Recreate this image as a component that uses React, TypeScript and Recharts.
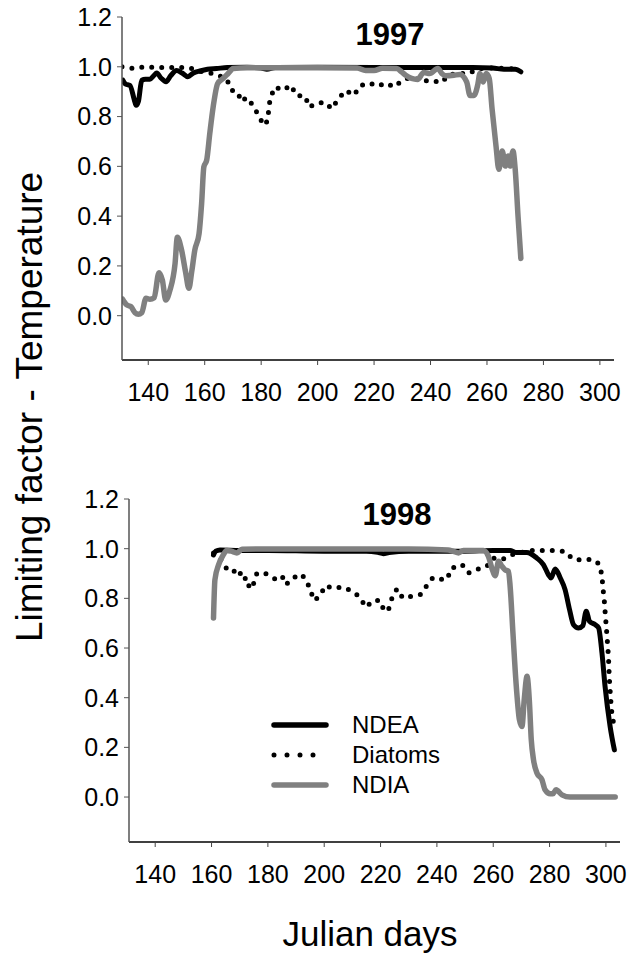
import React from "react";
import { LineChart, Line, XAxis, YAxis } from "recharts";

const FONT = "'Liberation Sans', Arial, sans-serif";

// ---------- 1997 ----------
const ndea97Days = [131, 132, 133.5, 135, 135.7, 136.5, 137.7, 139, 140.6, 142, 143, 144.5, 146.3, 148, 150, 152, 154, 156, 158.3, 161, 164.2, 168, 175, 180, 182, 185, 200, 220, 240, 255, 262, 266, 270, 272];
const ndea97Vals = [0.946, 0.93, 0.925, 0.87, 0.845, 0.86, 0.946, 0.95, 0.95, 0.965, 0.975, 0.955, 0.94, 0.965, 0.985, 0.975, 0.96, 0.975, 0.983, 0.99, 0.993, 0.997, 0.998, 0.995, 0.99, 0.997, 0.998, 0.997, 0.997, 0.997, 0.995, 0.99, 0.99, 0.98];

const diat97Days = [130.7, 135, 139, 142.8, 146.4, 150.4, 154, 159.2, 164.2, 167.8, 169.6, 171.6, 173, 174.8, 177.3, 179.2, 181, 182.3, 182.7, 183.2, 184.9, 187.7, 190.6, 192.4, 195.6, 197, 199.8, 202.7, 205, 207.4, 210, 212.9, 215, 218.3, 221.5, 224, 227.2, 230, 233.3, 236.9, 240.4, 243.7, 246.8, 249.7, 253.7, 256.8, 262, 267, 272];
const diat97Vals = [1.0, 0.993, 1.0, 0.997, 0.997, 0.997, 0.997, 0.98, 0.97, 0.95, 0.905, 0.9, 0.86, 0.877, 0.842, 0.8, 0.764, 0.784, 0.83, 0.874, 0.919, 0.905, 0.926, 0.885, 0.882, 0.838, 0.854, 0.857, 0.831, 0.872, 0.905, 0.885, 0.923, 0.935, 0.922, 0.935, 0.919, 0.946, 0.959, 0.943, 0.946, 0.936, 0.969, 0.973, 0.973, 0.993, 0.995, 0.993, 0.99];

const ndia97Days = [130.9, 132.4, 133.9, 135.3, 136.5, 137.7, 139.2, 140.6, 142.1, 143.8, 145, 146.2, 147.7, 149.5, 150.3, 151.8, 153.2, 154.4, 155.4, 156.5, 158, 158.9, 159.7, 160.7, 161.8, 163, 164.6, 166.5, 168.3, 170.1, 175, 200, 214, 217, 220, 223, 228, 229.7, 231.2, 233.3, 235.4, 237.6, 239.7, 242.6, 244, 245.4, 248.3, 250.4, 252.8, 254, 255.4, 256.8, 257.5, 258.7, 259.7, 260.8, 261.8, 263.2, 264.2, 265.4, 266.5, 267.5, 268.2, 269.2, 270, 271, 272];
const ndia97Vals = [0.066, 0.043, 0.036, 0.012, 0.006, 0.012, 0.07, 0.066, 0.072, 0.173, 0.143, 0.063, 0.103, 0.21, 0.315, 0.264, 0.177, 0.11, 0.177, 0.264, 0.33, 0.45, 0.598, 0.625, 0.732, 0.839, 0.933, 0.953, 0.973, 0.993, 0.996, 0.996, 0.995, 0.985, 0.985, 0.994, 0.993, 0.98, 0.966, 0.953, 0.949, 0.977, 0.973, 0.993, 0.973, 0.964, 0.966, 0.969, 0.939, 0.885, 0.885, 0.932, 0.973, 0.939, 0.973, 0.953, 0.831, 0.682, 0.588, 0.662, 0.601, 0.642, 0.601, 0.662, 0.588, 0.4, 0.23];

// ---------- 1998 ----------
const ndea98Days = [160.7, 161.5, 163, 170, 180, 200, 215, 219, 221, 223, 230, 250, 260, 266, 268, 271.9, 275.5, 277.8, 279.6, 280.5, 282, 283.8, 285.5, 287.1, 288.5, 290.3, 291.8, 293, 294.2, 296.2, 297.4, 298.6, 299.7, 301.5, 303];
const ndea98Vals = [0.975, 0.99, 0.995, 0.993, 0.993, 0.99, 0.99, 0.985, 0.98, 0.985, 0.99, 0.99, 0.993, 0.993, 0.985, 0.985, 0.962, 0.936, 0.895, 0.882, 0.918, 0.882, 0.835, 0.754, 0.694, 0.681, 0.69, 0.748, 0.707, 0.694, 0.681, 0.58, 0.445, 0.284, 0.19];

const diat98Days = [160.7, 162, 164, 165.8, 168.2, 169.8, 170.8, 172.6, 173.5, 174.9, 176.1, 179.4, 182.6, 185, 186.4, 188.9, 191.7, 193.6, 195, 196.4, 198.6, 200.3, 203.3, 206.3, 209.5, 212.5, 214.8, 217.5, 219.9, 221.3, 222.8, 224, 225.8, 227.9, 230.8, 234.1, 236.2, 238.6, 240.9, 243.5, 245.3, 248.9, 251.2, 254.8, 257.7, 260.1, 263.1, 266.6, 270.2, 273.7, 277.8, 281.6, 285.5, 288.3, 291.8, 295, 297.7, 298.6, 298.9, 299.4, 299.7, 300.3, 300.9, 301.2, 301.7, 302.1, 302.7];
const diat98Vals = [0.983, 0.97, 0.949, 0.909, 0.909, 0.918, 0.875, 0.882, 0.838, 0.858, 0.902, 0.899, 0.878, 0.891, 0.855, 0.882, 0.898, 0.875, 0.835, 0.791, 0.811, 0.851, 0.84, 0.846, 0.831, 0.807, 0.764, 0.792, 0.791, 0.748, 0.754, 0.799, 0.838, 0.801, 0.808, 0.815, 0.848, 0.884, 0.878, 0.875, 0.922, 0.936, 0.902, 0.919, 0.929, 0.962, 0.956, 0.976, 0.985, 0.993, 0.993, 0.993, 0.989, 0.958, 0.953, 0.958, 0.938, 0.891, 0.846, 0.795, 0.748, 0.66, 0.566, 0.479, 0.392, 0.338, 0.298];

const ndia98Days = [160.7, 161.2, 162.5, 164.2, 165.4, 167, 169, 170.8, 180, 200, 230, 244, 245.9, 247.7, 249.4, 256.5, 258.3, 259.5, 260.7, 261.9, 263.1, 264.2, 265.4, 266, 267, 268.1, 269.3, 270.2, 271, 272, 272.8, 273.5, 274.3, 275.5, 277.3, 278.4, 280.2, 281.2, 282.3, 284.4, 287.3, 303.3];
const ndia98Vals = [0.721, 0.875, 0.935, 0.976, 0.993, 0.99, 0.983, 0.998, 0.999, 0.999, 0.999, 0.995, 0.989, 0.983, 0.993, 0.993, 0.969, 0.922, 0.891, 0.949, 0.929, 0.915, 0.909, 0.848, 0.66, 0.459, 0.311, 0.284, 0.392, 0.486, 0.392, 0.231, 0.15, 0.097, 0.07, 0.029, 0.013, 0.013, 0.029, 0.009, 0.0, 0.0];

const xTicks = [140, 160, 180, 200, 220, 240, 260, 280, 300];
const yTicks = [0, 0.2, 0.4, 0.6, 0.8, 1.0, 1.2];
const legendNames = ["NDEA", "Diatoms", "NDIA"];

const zip = (days: number[], vals: number[]) => days.map((d, i) => ({ d, v: vals[i] }));

const BLACK = "#000000";
const GRAY = "#808080";

type PanelProps = {
  top: number;
  height: number;
  marginTop: number;
  marginRight: number;
  yAxisWidth: number;
  yMin: number;
  ndea: { d: number; v: number }[];
  diat: { d: number; v: number }[];
  ndia: { d: number; v: number }[];
};

const tickStyle = { fill: "#000", fontSize: 25, fontFamily: FONT };

function Panel(p: PanelProps) {
  return (
    <div style={{ position: "absolute", left: 0, top: p.top }}>
      <LineChart
        width={631}
        height={p.height}
        margin={{ top: p.marginTop, right: p.marginRight, bottom: 0, left: 0 }}
      >
        <XAxis
          dataKey="d"
          type="number"
          domain={[130.7, 305]}
          ticks={xTicks}
          allowDataOverflow
          height={60}
          tickSize={5}
          tickMargin={18}
          stroke="#000"
          tick={tickStyle}
          axisLine={{ stroke: "#000", strokeWidth: 1.5 }}
          tickLine={{ stroke: "#444" }}
        />
        <YAxis
          type="number"
          domain={[p.yMin, 1.2]}
          ticks={yTicks}
          allowDataOverflow
          width={p.yAxisWidth}
          tickSize={5}
          tickMargin={5}
          tick={tickStyle}
          tickFormatter={(v: number) => v.toFixed(1)}
          axisLine={{ stroke: "#555", strokeWidth: 1.5 }}
          tickLine={{ stroke: "#555" }}
        />
        <Line
          data={p.diat}
          dataKey="v"
          type="linear"
          stroke={BLACK}
          strokeWidth={5}
          strokeDasharray="0 10"
          strokeLinecap="round"
          dot={false}
          isAnimationActive={false}
        />
        <Line
          data={p.ndea}
          dataKey="v"
          type="monotone"
          stroke={BLACK}
          strokeWidth={5}
          strokeLinejoin="round"
          strokeLinecap="round"
          dot={false}
          isAnimationActive={false}
        />
        <Line
          data={p.ndia}
          dataKey="v"
          type="monotone"
          stroke={GRAY}
          strokeWidth={5.5}
          strokeLinejoin="round"
          strokeLinecap="round"
          dot={false}
          isAnimationActive={false}
        />
      </LineChart>
    </div>
  );
}

function Title({ text, x, y }: { text: string; x: number; y: number }) {
  return (
    <div
      style={{
        position: "absolute",
        left: x - 60,
        top: y - 18,
        width: 120,
        height: 36,
        lineHeight: "36px",
        textAlign: "center",
        fontFamily: FONT,
        fontWeight: "bold",
        fontSize: 31,
        color: "#000",
      }}
    >
      {text}
    </div>
  );
}

function LegendRow({ name, y, kind }: { name: string; y: number; kind: number }) {
  return (
    <div style={{ position: "absolute", left: 270, top: y - 15, height: 30, width: 220 }}>
      <svg width={60} height={30} style={{ position: "absolute", left: 0, top: 0 }}>
        {kind === 0 && <line x1={4} y1={15} x2={56} y2={15} stroke={BLACK} strokeWidth={5.5} strokeLinecap="round" />}
        {kind === 1 && (
          <line x1={4} y1={15} x2={56} y2={15} stroke={BLACK} strokeWidth={5} strokeLinecap="round" strokeDasharray="0 13" />
        )}
        {kind === 2 && <line x1={4} y1={15} x2={56} y2={15} stroke={GRAY} strokeWidth={5.5} strokeLinecap="round" />}
      </svg>
      <div
        style={{
          position: "absolute",
          left: 82,
          top: 0,
          height: 30,
          lineHeight: "30px",
          fontFamily: FONT,
          fontSize: 24,
          color: "#000",
          whiteSpace: "nowrap",
        }}
      >
        {name}
      </div>
    </div>
  );
}

export default function App() {
  return (
    <div style={{ position: "absolute", left: 0, top: 0, width: 631, height: 959, background: "#fff", overflow: "hidden" }}>
      <Panel
        top={0}
        height={420}
        marginTop={17}
        marginRight={17}
        yAxisWidth={122}
        yMin={-0.178}
        ndea={zip(ndea97Days, ndea97Vals)}
        diat={zip(diat97Days, diat97Vals)}
        ndia={zip(ndia97Days, ndia97Vals)}
      />
      <Panel
        top={480}
        height={422}
        marginTop={19}
        marginRight={11}
        yAxisWidth={129}
        yMin={-0.181}
        ndea={zip(ndea98Days, ndea98Vals)}
        diat={zip(diat98Days, diat98Vals)}
        ndia={zip(ndia98Days, ndia98Vals)}
      />
      <Title text="1997" x={390} y={35} />
      <Title text="1998" x={397} y={515} />
      {legendNames.map((n, i) => (
        <LegendRow key={n} name={n} y={725 + i * 30} kind={i} />
      ))}
      <div
        style={{
          position: "absolute",
          left: 30,
          top: 407,
          transform: "translate(-50%, -50%) rotate(-90deg)",
          fontFamily: FONT,
          fontSize: 37,
          color: "#000",
          whiteSpace: "nowrap",
        }}
      >
        Limiting factor - Temperature
      </div>
      <div
        style={{
          position: "absolute",
          left: 270,
          width: 200,
          top: 914,
          height: 40,
          lineHeight: "40px",
          textAlign: "center",
          fontFamily: FONT,
          fontSize: 35,
          color: "#000",
        }}
      >
        Julian days
      </div>
    </div>
  );
}
